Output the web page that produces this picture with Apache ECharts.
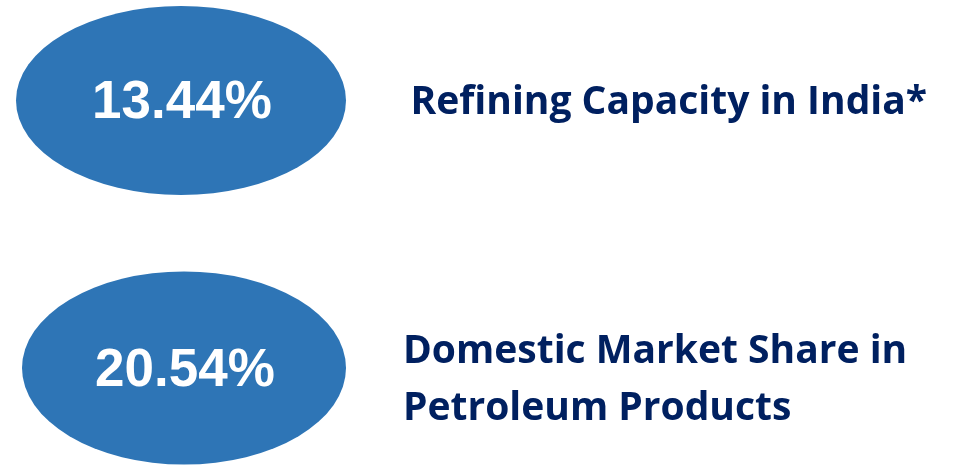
<!DOCTYPE html>
<html>
<head>
<meta charset="utf-8">
<script src="https://cdn.jsdelivr.net/npm/echarts@6/dist/echarts.min.js"></script>
<style>
  html, body { margin: 0; padding: 0; background: #fff; }
  #chart { width: 956px; height: 467px; }
</style>
</head>
<body>
<div id="chart"></div>
<script>
// key figures, top to bottom
const metrics = ['Refining Capacity in India*', 'Domestic Market Share in\nPetroleum Products'];
const shares = [13.44, 20.54];

// ellipse size / nudge per item (layout only)
const bubbleSize = [[330, 189], [324, 193]];
const bubbleShift = [[-1.5, 0], [1.5, 0]];
const captionDistance = [228, 220.5];
const captionShift = [[0, 2], [0, 12]];

const chart = echarts.init(document.getElementById('chart'));

const bubbles = shares.map((v, i) => ({
  value: [0, i, v],
  symbolSize: bubbleSize[i],
  symbolOffset: bubbleShift[i]
}));

const captions = metrics.map((name, i) => ({
  value: [0, i],
  label: { distance: captionDistance[i], offset: captionShift[i] }
}));

chart.setOption({
  animation: false,
  grid: { left: 17, width: 331, top: 100.5, height: 267.5 },
  xAxis: { type: 'category', data: ['share'], show: false },
  yAxis: { type: 'category', data: metrics, inverse: true, boundaryGap: false, show: false },
  series: [
    {
      type: 'scatter',
      symbol: 'circle',
      itemStyle: { color: '#2E75B6', opacity: 1 },
      emphasis: { disabled: true },
      label: {
        show: true,
        position: 'inside',
        offset: [1, 3],
        formatter: p => p.value[2].toFixed(2) + '%',
        color: '#fff',
        fontFamily: 'Liberation Sans, Arial, sans-serif',
        fontWeight: 'bold',
        fontSize: 53
      },
      data: bubbles
    },
    {
      type: 'scatter',
      symbolSize: 0,
      itemStyle: { opacity: 1 },
      emphasis: { disabled: true },
      label: {
        show: true,
        position: 'right',
        formatter: p => metrics[p.dataIndex],
        color: '#002060',
        fontFamily: 'Open Sans, sans-serif',
        fontWeight: 'bold',
        fontSize: 39,
        lineHeight: 57
      },
      data: captions
    }
  ]
});
</script>
</body>
</html>
